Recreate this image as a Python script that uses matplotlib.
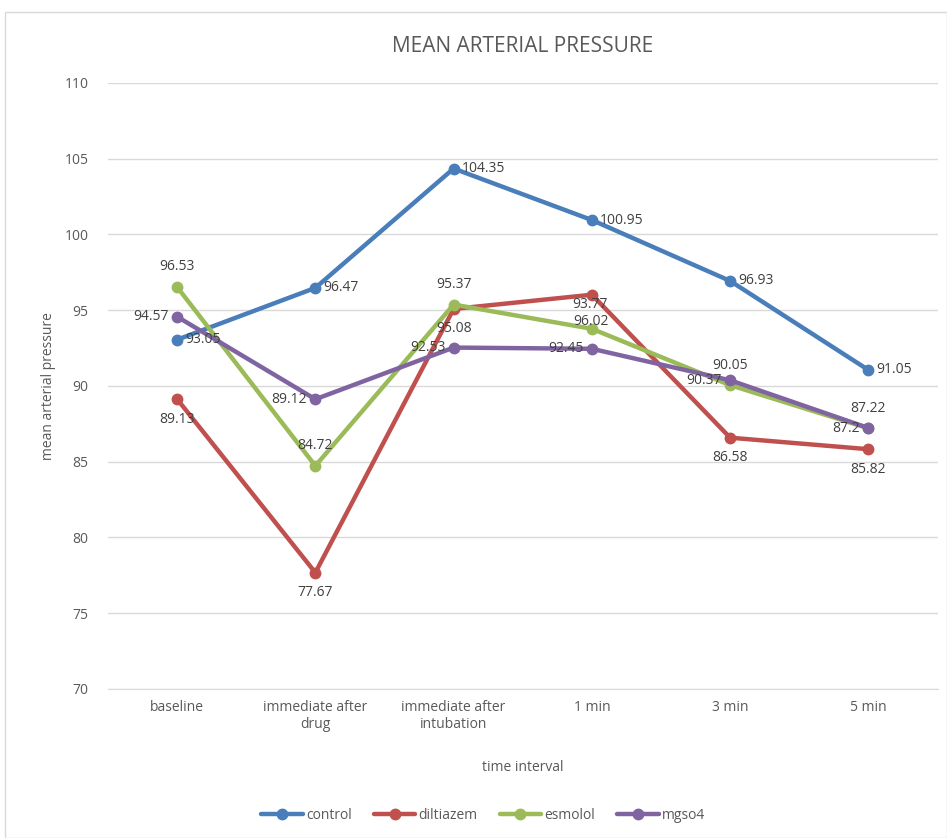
import numpy as np
import matplotlib.pyplot as plt
from matplotlib.patches import Rectangle

# data
categories = ['baseline', 'immediate after\ndrug', 'immediate after\nintubation', '1 min', '3 min', '5 min']
control = [93.05, 96.47, 104.35, 100.95, 96.93, 91.05]
diltiazem = [89.13, 77.67, 95.08, 96.02, 86.58, 85.82]
esmolol = [96.53, 84.72, 95.37, 93.77, 90.05, 87.2]
mgso4 = [94.57, 89.12, 92.53, 92.45, 90.37, 87.22]

series = [
    ('control', control, '#4a7ebb', ['r', 'r', 'r', 'r', 'r', 'r']),
    ('diltiazem', diltiazem, '#c0504d', ['b', 'b', 'b', 'B', 'b', 'b']),
    ('esmolol', esmolol, '#9bbb59', ['a', 'a', 'a', 'A', 'a', 'l']),
    ('mgso4', mgso4, '#8064a2', ['l', 'l', 'l', 'l', 'l', 'a']),
]

txt = '#595959'
plt.rcParams['font.family'] = ['Open Sans', 'DejaVu Sans']

fig = plt.figure(figsize=(9.47, 8.38), dpi=100)
ax = fig.add_axes([0.114, 0.178, 0.876, 0.723])

x = np.arange(len(categories))
offsets = {'r': (6, 0, 'left', 'center'), 'l': (-6, 0, 'right', 'center'),
           'a': (0, 9, 'center', 'bottom'), 'b': (0, -9, 'center', 'top'),
           'A': (-1, 12, 'center', 'bottom'), 'B': (-1, -14, 'center', 'top')}
for name, vals, col, pos in series:
    ax.plot(x, vals, color=col, lw=3.2, marker='o', ms=7.5, label=name,
            solid_capstyle='round', zorder=3)
    for xi, v, p in zip(x, vals, pos):
        dx, dy, ha, va = offsets[p]
        ax.annotate(f'{v:g}', (xi, v), xytext=(dx, dy), textcoords='offset points',
                    ha=ha, va=va, fontsize=10, color='#404040', zorder=4)

ax.set_xlim(-0.5, len(categories) - 0.5)
ax.set_ylim(70, 110)
ax.set_yticks(np.arange(70, 111, 5))
ax.set_xticks(x)
ax.set_xticklabels(categories, fontsize=10, color=txt)
ax.tick_params(axis='y', labelsize=10, labelcolor=txt, length=0, pad=14)
ax.tick_params(axis='x', length=0, pad=8)
ax.grid(axis='y', color='#d9d9d9', lw=1)
ax.set_axisbelow(True)
for s in ['top', 'right', 'left']:
    ax.spines[s].set_visible(False)
ax.spines['bottom'].set_color('#d9d9d9')

ax.set_title('MEAN ARTERIAL PRESSURE', fontsize=15, color=txt, pad=22)
ax.set_xlabel('time interval', fontsize=10, color=txt, labelpad=20)
ax.set_ylabel('mean arterial pressure', fontsize=10, color=txt, labelpad=6)

fig.legend(loc='center', bbox_to_anchor=(0.51, 0.027), ncol=4, frameon=False,
           fontsize=10, labelcolor=txt, handlelength=3, columnspacing=1.6,
           handletextpad=0.2)

fig.patches.append(Rectangle((0.005, 0.0), 0.995, 0.986, transform=fig.transFigure,
                             fill=False, edgecolor='#d9d9d9', lw=1))

fig.savefig('out.png', dpi=100)
